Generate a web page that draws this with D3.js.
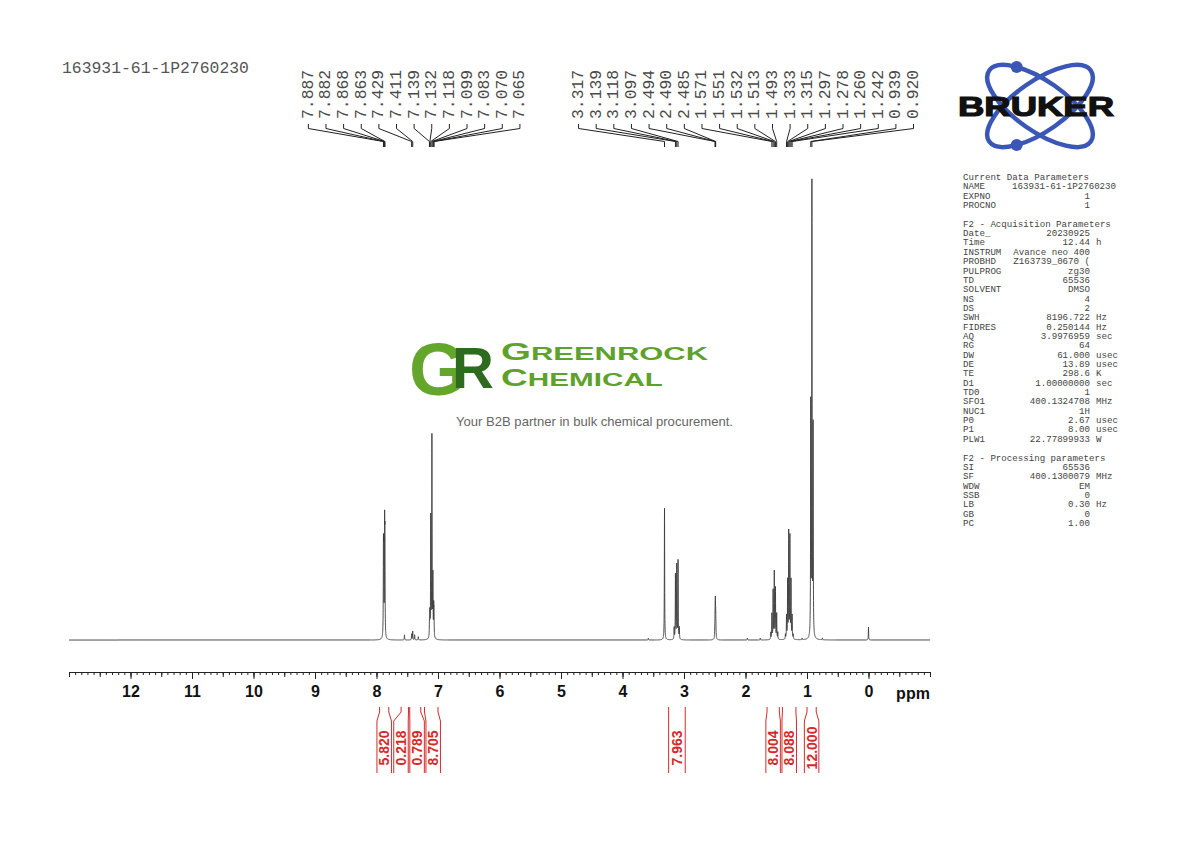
<!DOCTYPE html>
<html><head><meta charset="utf-8">
<script src="https://cdn.jsdelivr.net/npm/d3@7"></script>
<style>body{margin:0;background:#fff}svg{display:block}</style>
</head><body>
<svg id="c" width="1190" height="842"></svg>
<script>
// ---------------- data ----------------
const sampleName = "163931-61-1P2760230";
const peakPpm = [7.887,7.882,7.868,7.863, 7.545,7.429,7.411,7.38,7.32,
  7.139,7.132,7.118,7.099,7.083,7.070,7.065,
  3.58, 3.317, 3.160,3.139,3.118,3.097,3.076,
  2.499,2.494,2.490,2.485,2.481, 1.97,1.76,
  1.590,1.571,1.551,1.532,1.513,1.493,1.475,
  1.351,1.333,1.315,1.297,1.278,1.260,1.242,1.224, 1.08,
  0.939,0.920,0.901, 0.75, 0.000];
const peakInt = [18,16,22,19, 1.1,1.3,1.9,1.1,0.7,
  3,5,26,43.5,13,6,5,
  0.4, 28.5, 2.5,14,16,17,2.5,
  1.5,4.5,6.4,4.5,1.5, 0.4,0.4,
  1.5,5.5,10.5,14.5,11,5.5,1.5,
  1,5,12.5,23,22,12.5,5,1, 0.35,
  50,97.5,45, 0.4, 2.8];
const labelGroupA = ["7.887","7.882","7.868","7.863","7.429","7.411","7.139","7.132","7.118","7.099","7.083","7.070","7.065"];
const labelGroupB = ["3.317","3.139","3.118","3.097","2.494","2.490","2.485","1.571","1.551","1.532","1.513","1.493","1.333","1.315","1.297","1.278","1.260","1.242","0.939","0.920"];
const integralFrom = [7.95, 7.60, 7.46, 7.22, 3.25, 1.65, 1.40, 1.00];
const integralTo   = [7.80, 7.48, 7.28, 7.00, 2.98, 1.45, 1.18, 0.85];
const integralVal  = ["5.820","0.218","0.789","8.705","7.963","8.004","8.088","12.000"];
const axisMajor = [12,11,10,9,8,7,6,5,4,3,2,1,0];
const paramSections = ["Current Data Parameters","F2 - Acquisition Parameters","F2 - Processing parameters"];
const paramNames = [
  ["NAME","EXPNO","PROCNO"],
  ["Date_","Time","INSTRUM","PROBHD","PULPROG","TD","SOLVENT","NS","DS","SWH","FIDRES","AQ","RG","DW","DE","TE","D1","TD0","SFO1","NUC1","P0","P1","PLW1"],
  ["SI","SF","WDW","SSB","LB","GB","PC"]];
const paramValues = [
  ["163931-61-1P2760230","1","1"],
  ["20230925","12.44","Avance neo 400","Z163739_0670 (","zg30","65536","DMSO","4","2","8196.722","0.250144","3.9976959","64","61.000","13.89","298.6","1.00000000","1","400.1324708","1H","2.67","8.00","22.77899933"],
  ["65536","400.1300079","EM","0","0.30","0","1.00"]];
const paramUnits = [
  ["","",""],
  ["","h","","","","","","","","Hz","Hz","sec","","usec","usec","K","sec","","MHz","","usec","usec","W"],
  ["","MHz","","","Hz","",""]];

// ---------------- drawing ----------------
const svg = d3.select("#c");
const x = d3.scaleLinear().domain([13, -1]).range([69, 930]);
const y = d3.scaleLinear().domain([0, 100]).range([640, 178]);
const mono = "'Liberation Mono','DejaVu Sans Mono',monospace";
const sans = "'Liberation Sans',Arial,sans-serif";

// title
svg.append("text").attr("x", 62).attr("y", 73).attr("font-family", mono)
  .attr("font-size", 16.4).attr("fill", "#555").text(sampleName);

// spectrum
const gamma = 0.003;
const grid = d3.range(13, -1.0005, -0.001).concat(peakPpm).sort((a, b) => b - a);
const spec = grid.map(p => [p, d3.sum(peakPpm, (q, i) => peakInt[i] / (1 + ((p - q) / gamma) ** 2))]);
svg.append("path").datum(spec)
  .attr("d", d3.line().x(d => x(d[0])).y(d => y(d[1])))
  .attr("fill", "none").attr("stroke", "#3c3c3c").attr("stroke-width", 0.9);

// axis
const axY = 672;
svg.append("g").attr("transform", `translate(0,${axY})`)
  .call(d3.axisBottom(x).tickValues(d3.range(-10, 131, 1).map(v => v / 10)).tickFormat("").tickSize(3).tickSizeOuter(0))
  .call(g => g.selectAll("line,path").attr("stroke", "#222"));
svg.append("g").attr("transform", `translate(0,${axY})`)
  .call(d3.axisBottom(x).tickValues(d3.range(-2, 27, 1).map(v => v / 2)).tickFormat("").tickSize(5).tickSizeOuter(0))
  .call(g => g.select(".domain").remove()).call(g => g.selectAll("line").attr("stroke", "#222"));
const gMaj = svg.append("g").attr("transform", `translate(0,${axY})`)
  .call(d3.axisBottom(x).tickValues(axisMajor).tickFormat(d3.format("d")).tickSize(7).tickPadding(7).tickSizeOuter(0));
gMaj.select(".domain").remove();
gMaj.selectAll("line").attr("stroke", "#222");
gMaj.selectAll("text").attr("font-family", sans).attr("font-weight", "bold")
  .attr("font-size", 16).attr("fill", "#111");
svg.append("text").attr("x", 913).attr("y", 699).attr("text-anchor", "middle")
  .attr("font-family", sans).attr("font-weight", "bold").attr("font-size", 16).attr("fill", "#111").text("ppm");

// peak labels (spread clusters)
function spreadGroup(vals, pitch) {
  const px = vals.map(v => x(+v));
  const c = d3.mean(px);
  return px.map((p, i) => c + (i - (vals.length - 1) / 2) * pitch);
}
function drawLabels(vals, pitch, shift) {
  const lx = spreadGroup(vals, pitch).map(v => v + shift);
  const g = svg.append("g");
  vals.forEach((v, i) => {
    const tx = lx[i], px = x(+v);
    g.append("text").attr("transform", `translate(${tx},119) rotate(-90)`)
      .attr("dominant-baseline", "central").attr("font-family", mono).attr("font-size", 16.4)
      .attr("fill", "#4a4a4a").text(v);
    g.append("path").attr("d", `M${tx},124 L${tx},128.5 L${px},141.5 L${px},147`)
      .attr("fill", "none").attr("stroke", "#222").attr("stroke-width", 1);
  });
}
drawLabels(labelGroupA, 17.63, 0);
drawLabels(labelGroupB, 17.63, -7.5);

// integrals
(function () {
  const minW = 14.5, gap = 1.6;
  let items = integralVal.map((v, i) => {
    const a = x(integralFrom[i]), b = x(integralTo[i]);
    return { a, b, c: (a + b) / 2, w: Math.max(b - a, minW), i };
  });
  let clusters = items.map(d => ({ m: [d] }));
  const layout = cl => {
    const tot = d3.sum(cl.m, d => d.w) + gap * (cl.m.length - 1);
    const c = d3.mean(cl.m, d => d.c);
    let s = c - tot / 2;
    cl.m.forEach(d => { d.l = s; d.r = s + d.w; s += d.w + gap; });
    cl.l = cl.m[0].l; cl.r = cl.m[cl.m.length - 1].r;
  };
  clusters.forEach(layout);
  let changed = true;
  while (changed) {
    changed = false;
    for (let k = 0; k < clusters.length - 1; k++) {
      if (clusters[k].r + gap > clusters[k + 1].l) {
        clusters[k].m = clusters[k].m.concat(clusters[k + 1].m);
        clusters.splice(k + 1, 1); layout(clusters[k]); changed = true; break;
      }
    }
  }
  const red = "#d42a2a";
  const g = svg.append("g");
  items.forEach(d => {
    [[d.a, d.l], [d.b, d.r]].forEach(([ax, sx]) => {
      g.append("path").attr("d", `M${ax},707 L${ax},712 L${sx},721 L${sx},773`)
        .attr("fill", "none").attr("stroke", red).attr("stroke-width", 1);
    });
    g.append("text").attr("transform", `translate(${(d.l + d.r) / 2},748) rotate(-90)`)
      .attr("text-anchor", "middle").attr("dominant-baseline", "central")
      .attr("font-family", sans).attr("font-weight", "bold").attr("font-size", 14)
      .attr("fill", red).text(integralVal[d.i]);
  });
})();

// Bruker logo
(function () {
  const g = svg.append("g");
  const cx = 1040, cy = 106, a = 62, b = 25, phi = 35 * Math.PI / 180;
  [35, -35].forEach(r => {
    g.append("ellipse").attr("cx", cx).attr("cy", cy).attr("rx", a).attr("ry", b)
      .attr("transform", `rotate(${r},${cx},${cy})`)
      .attr("fill", "none").attr("stroke", "#3b57b5").attr("stroke-width", 4.5);
  });
  const t = -132 * Math.PI / 180;
  const ex = a * Math.cos(t) * Math.cos(phi) - b * Math.sin(t) * Math.sin(phi);
  const ey = a * Math.cos(t) * Math.sin(phi) + b * Math.sin(t) * Math.cos(phi);
  [[cx + ex, cy + ey], [cx + ex, cy - ey]].forEach(([p, q]) =>
    g.append("circle").attr("cx", p).attr("cy", q).attr("r", 6).attr("fill", "#3b57b5"));
  g.append("text").attr("x", 958).attr("y", 116).attr("textLength", 156)
    .attr("lengthAdjust", "spacingAndGlyphs").attr("font-family", sans).attr("font-weight", "900")
    .attr("font-size", 28).attr("fill", "#111").attr("stroke", "#111").attr("stroke-width", 1.2).text("BRUKER");
})();

// parameter panel
(function () {
  const g = svg.append("g").attr("font-family", mono).attr("font-size", 9.15).attr("fill", "#444");
  let yy = 180; const lh = 9.35;
  paramSections.forEach((sec, s) => {
    g.append("text").attr("x", 963).attr("y", yy).text(sec);
    yy += lh;
    paramNames[s].forEach((n, i) => {
      g.append("text").attr("x", 963).attr("y", yy).text(n);
      if (n === "NAME") {
        g.append("text").attr("x", 1012).attr("y", yy).text(paramValues[s][i]);
      } else {
        g.append("text").attr("x", 1090).attr("y", yy).attr("text-anchor", "end").text(paramValues[s][i]);
      }
      if (paramUnits[s][i]) g.append("text").attr("x", 1096).attr("y", yy).text(paramUnits[s][i]);
      yy += lh;
    });
    yy += lh;
  });
})();

// watermark logo
(function () {
  const g = svg.append("g");
  g.append("text").attr("x", 409).attr("y", 395).attr("font-family", sans).attr("font-weight", "bold")
    .attr("font-size", 74).attr("fill", "#64a52c").text("G");
  g.append("text").attr("x", 452).attr("y", 388).attr("font-family", sans).attr("font-weight", "bold")
    .attr("font-size", 58).attr("fill", "#2f6b1f").text("R");
  const t1 = g.append("text").attr("x", 501).attr("y", 360).attr("font-family", sans)
    .attr("font-weight", "bold").attr("fill", "#5fa22b").attr("textLength", 207).attr("lengthAdjust", "spacingAndGlyphs");
  t1.append("tspan").attr("font-size", 23).text("G");
  t1.append("tspan").attr("font-size", 18.5).text("REENROCK");
  const t2 = g.append("text").attr("x", 501).attr("y", 386).attr("font-family", sans)
    .attr("font-weight", "bold").attr("fill", "#5fa22b").attr("textLength", 162).attr("lengthAdjust", "spacingAndGlyphs");
  t2.append("tspan").attr("font-size", 23).text("C");
  t2.append("tspan").attr("font-size", 18.5).text("HEMICAL");
  g.append("text").attr("x", 456).attr("y", 426).attr("font-family", sans).attr("font-size", 13)
    .attr("fill", "#666").attr("textLength", 277).attr("lengthAdjust", "spacingAndGlyphs")
    .text("Your B2B partner in bulk chemical procurement.");
})();
</script>
</body></html>
